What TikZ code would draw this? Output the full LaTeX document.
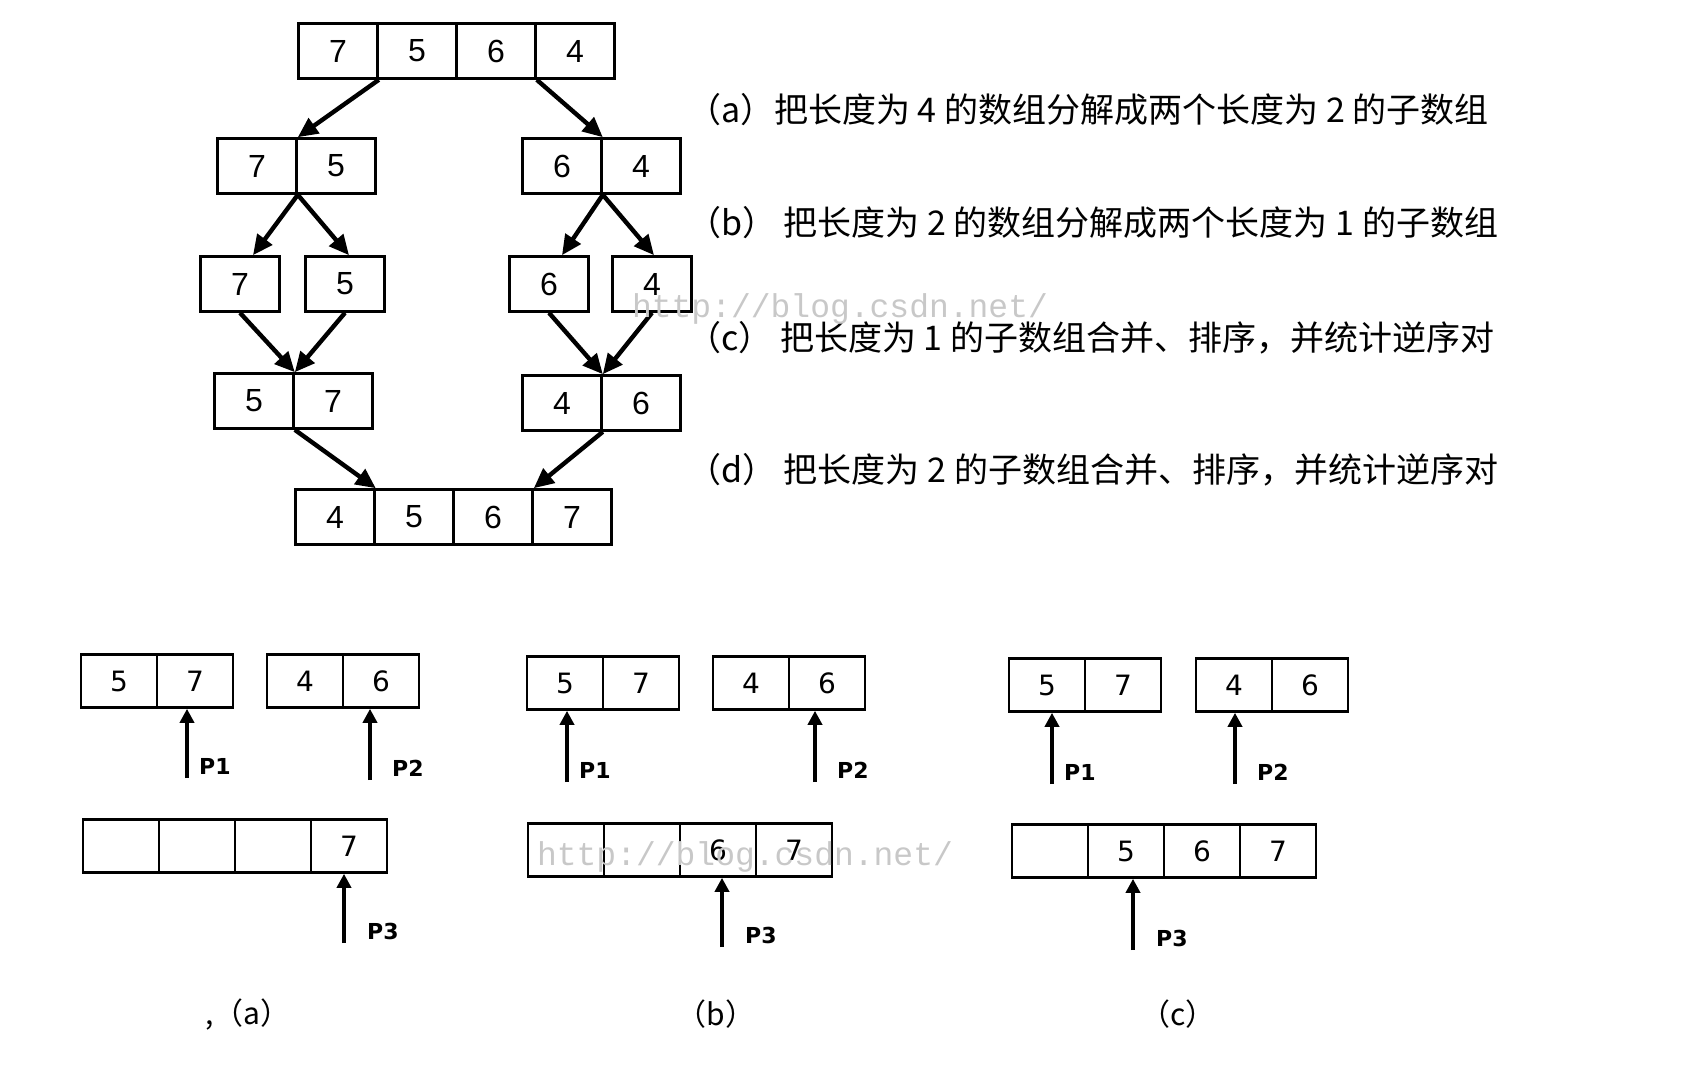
\documentclass[tikz,border=0pt]{standalone}
\usepackage{fontspec}
\setmainfont{Liberation Sans}
\setmonofont{Liberation Mono}
\newfontfamily\cjk{Noto Sans CJK SC}
\newfontfamily\ptrfont{DejaVu Sans}
\usetikzlibrary{calc, arrows.meta}

\begin{document}
\begin{tikzpicture}[x=1pt, y=-1pt,
    cell/.style={draw=borderColour, line width=2.6pt, minimum width=79pt, minimum height=55pt,
        inner sep=0pt, font=\fontsize{32}{32}\selectfont},
    smallcell/.style={cell, minimum width=76pt, minimum height=53pt, font=\ptrfont\fontsize{28}{28}\selectfont},
    link/.style={draw=borderColour, line width=4.4pt, -{Triangle[length=20pt,width=18pt]}},
    ptr/.style={draw=borderColour, line width=3.8pt, -{Triangle[length=14pt,width=14pt]}},
    plabel/.style={anchor=west, inner sep=0pt, font=\ptrfont\bfseries\fontsize{22}{22}\selectfont},
    desc/.style={anchor=west, inner sep=0pt, font=\cjk\fontsize{34}{34}\selectfont},
    caption/.style={inner sep=0pt, font=\cjk\fontsize{30}{30}\selectfont},
    wmark/.style={text=markColour, inner sep=0pt, font=\ttfamily\fontsize{33}{33}\selectfont}]
    % Define colours
    \definecolor{borderColour}{HTML}{000000}
    \definecolor{markColour}{HTML}{C8C8C8}

    % Fix the page to the size of the reference
    \useasboundingbox (0,0) rectangle (1706,1076);

    % Draw the array of length 4
    \foreach \v [count=\i] in {7,5,6,4}
        \node[cell] (t\i) at (259+79*\i,51) {\v};

    % Split into arrays of length 2
    \foreach \v [count=\i] in {7,5}
        \node[cell] (l2\i) at (178+79*\i,166) {\v};
    \foreach \v [count=\i] in {6,4}
        \node[cell] (r2\i) at (483+79*\i,166) {\v};

    % Split into arrays of length 1
    \node[cell] (l31) at (240,284) {7};
    \node[cell] (l32) at (345,284) {5};
    \node[cell] (r31) at (549,284) {6};
    \node[cell] (r32) at (652,284) {4};

    % Merged arrays of length 2
    \foreach \v [count=\i] in {5,7}
        \node[cell] (l4\i) at (175+79*\i,401) {\v};
    \foreach \v [count=\i] in {4,6}
        \node[cell] (r4\i) at (483+79*\i,403) {\v};

    % Merged array of length 4
    \foreach \v [count=\i] in {4,5,6,7}
        \node[cell] (m\i) at (256+79*\i,517) {\v};

    % Draw the arrows
    \draw[link] (t1.south east) -- (l21.north east);
    \draw[link] (t3.south east) -- (r21.north east);
    \draw[link] (l21.south east) -- ([xshift=13pt]l31.north);
    \draw[link] (l21.south east) -- ([xshift=4pt]l32.north);
    \draw[link] (r21.south east) -- ([xshift=13pt]r31.north);
    \draw[link] (r21.south east) -- ([xshift=2pt]r32.north);
    \draw[link] (l31.south) -- (l41.north east);
    \draw[link] (l32.south) -- (l41.north east);
    \draw[link] (r31.south) -- (r41.north east);
    \draw[link] (r32.south) -- (r41.north east);
    \draw[link] (l41.south east) -- (m1.north east);
    \draw[link] (r41.south east) -- (m3.north east);

    % Label the steps
    \node[desc] (da) at (687,110) {（a）把长度为 4 的数组分解成两个长度为 2 的子数组};
    \node[desc] (db) at (687,223) {（b） 把长度为 2 的数组分解成两个长度为 1 的子数组};
    \node[desc] (dc) at (687,338) {（c） 把长度为 1 的子数组合并、排序，并统计逆序对};
    \node[desc] (dd) at (687,470) {（d） 把长度为 2 的子数组合并、排序，并统计逆序对};

    % Panel (a)
    \foreach \v [count=\i] in {5,7}
        \node[smallcell] (a1\i) at (43+76*\i,681) {\v};
    \foreach \v [count=\i] in {4,6}
        \node[smallcell] (a2\i) at (229+76*\i,681) {\v};
    \foreach \v [count=\i] in {{},{},{},7}
        \node[smallcell] (a3\i) at (45+76*\i,846) {\v};
    \coordinate (ap1) at (187,778);
    \coordinate (ap2) at (370,780);
    \coordinate (ap3) at (344,943);
    \draw[ptr] (ap1) -- (ap1 |- a12.south);
    \draw[ptr] (ap2) -- (ap2 |- a22.south);
    \draw[ptr] (ap3) -- (ap3 |- a34.south);
    \node[plabel] (ap1l) at ($(ap1)+(12,-12)$) {P1};
    \node[plabel] (ap2l) at ($(ap2)+(22,-12)$) {P2};
    \node[plabel] (ap3l) at ($(ap3)+(23,-12)$) {P3};
    \node[caption] (ca) at (248,1014) {,（a）};

    % Panel (b)
    \foreach \v [count=\i] in {5,7}
        \node[smallcell] (b1\i) at (489+76*\i,683) {\v};
    \foreach \v [count=\i] in {4,6}
        \node[smallcell] (b2\i) at (675+76*\i,683) {\v};
    \foreach \v [count=\i] in {{},{},6,7}
        \node[smallcell] (b3\i) at (490+76*\i,850) {\v};
    \coordinate (bp1) at (567,782);
    \coordinate (bp2) at (815,782);
    \coordinate (bp3) at (722,947);
    \draw[ptr] (bp1) -- (bp1 |- b11.south);
    \draw[ptr] (bp2) -- (bp2 |- b22.south);
    \draw[ptr] (bp3) -- (bp3 |- b33.south);
    \node[plabel] (bp1l) at ($(bp1)+(12,-12)$) {P1};
    \node[plabel] (bp2l) at ($(bp2)+(22,-12)$) {P2};
    \node[plabel] (bp3l) at ($(bp3)+(23,-12)$) {P3};
    \node[caption] (cb) at (716,1014) {（b）};

    % Panel (c)
    \foreach \v [count=\i] in {5,7}
        \node[smallcell] (c1\i) at (971+76*\i,685) {\v};
    \foreach \v [count=\i] in {4,6}
        \node[smallcell] (c2\i) at (1158+76*\i,685) {\v};
    \foreach \v [count=\i] in {{},5,6,7}
        \node[smallcell] (c3\i) at (974+76*\i,851) {\v};
    \coordinate (cp1) at (1052,784);
    \coordinate (cp2) at (1235,784);
    \coordinate (cp3) at (1133,950);
    \draw[ptr] (cp1) -- (cp1 |- c11.south);
    \draw[ptr] (cp2) -- (cp2 |- c21.south);
    \draw[ptr] (cp3) -- (cp3 |- c32.south);
    \node[plabel] (cp1l) at ($(cp1)+(12,-12)$) {P1};
    \node[plabel] (cp2l) at ($(cp2)+(22,-12)$) {P2};
    \node[plabel] (cp3l) at ($(cp3)+(23,-12)$) {P3};
    \node[caption] (cc) at (1178,1014) {（c）};

    % Watermarks
    \node[wmark] (w1) at (840,309) {http://blog.csdn.net/};
    \node[wmark] (w2) at (745,857) {http://blog.csdn.net/};

\end{tikzpicture}
\end{document}
